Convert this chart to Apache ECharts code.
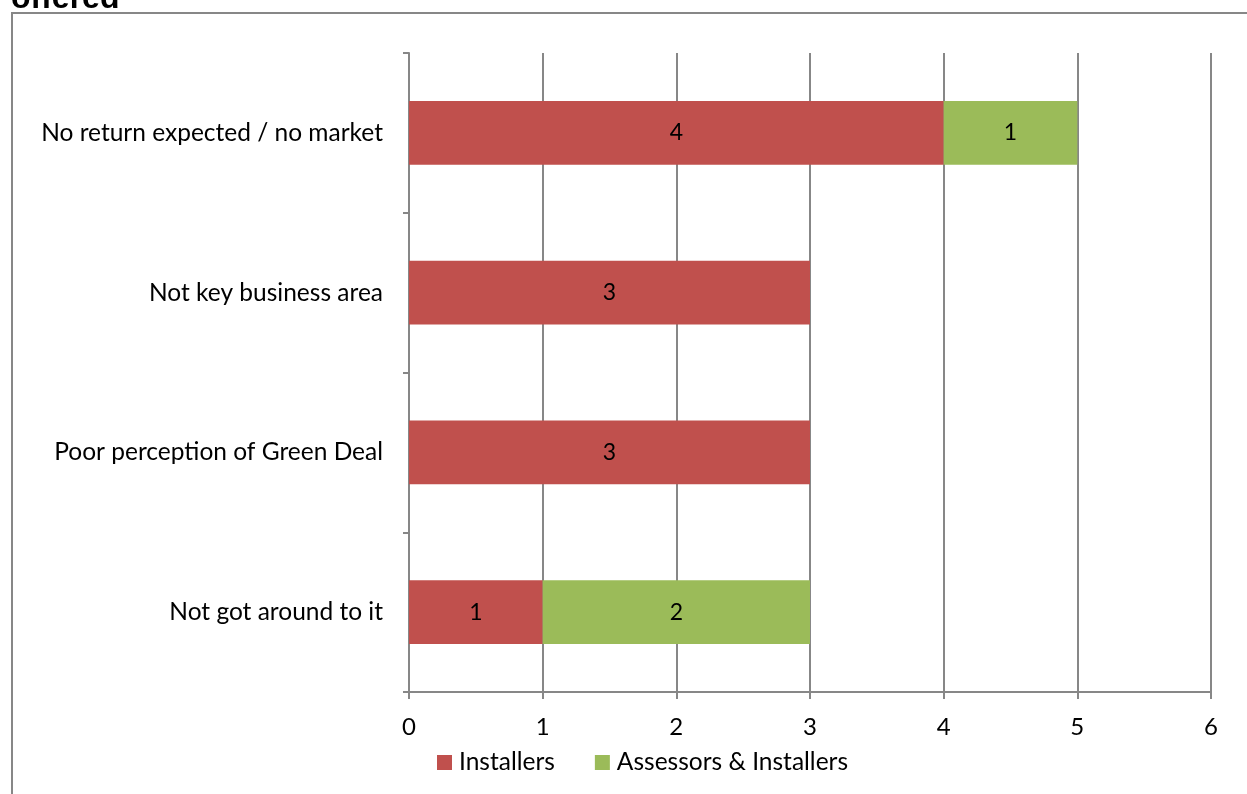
<!DOCTYPE html>
<html style="height: 100%">
<head>
    <meta charset="utf-8">
</head>
<body style="height: 100%; margin: 0; background: #fff">
    <div id="container" style="width: 1247px; height: 794px"></div>
    <script type="text/javascript" src="https://cdn.jsdelivr.net/npm/echarts@6/dist/echarts.min.js"></script>
    <script type="text/javascript">
        var categories = ['No return expected / no market', 'Not key business area', 'Poor perception of Green Deal', 'Not got around to it'];
        var installers = [4, 3, 3, 1];
        var assessorsInstallers = [1, null, null, 2];
        var xTicks = [0, 1, 2, 3, 4, 5, 6];

        var myChart = echarts.init(document.getElementById('container'));
        var axisGray = '#878787';
        var font = 'Lato, "Open Sans", sans-serif';

        var option = {
            backgroundColor: '#ffffff',
            animation: false,
            textStyle: { fontFamily: font },
            graphic: [
                {   // chart frame, runs off the page at right and bottom
                    type: 'rect',
                    shape: { x: 12, y: 13, width: 1400, height: 900 },
                    style: { fill: 'none', stroke: axisGray, lineWidth: 2 },
                    silent: true
                },
                {   // title, mostly cut off at the top
                    type: 'text',
                    left: 11,
                    top: -17,
                    style: {
                        text: 'offered',
                        font: 'bold 32px "Liberation Sans", Arial, sans-serif',
                        fill: '#000'
                    }
                }
            ],
            legend: {
                bottom: 14,
                left: 432,
                icon: 'rect',
                itemWidth: 15,
                itemHeight: 15,
                itemGap: 40,
                textStyle: { fontSize: 24.5, color: '#000', fontFamily: font, padding: [0, 0, 0, 2] },
                data: ['Installers', 'Assessors & Installers']
            },
            grid: { left: 409, right: 36, top: 53, bottom: 102, containLabel: false },
            xAxis: {
                type: 'value',
                min: xTicks[0],
                max: xTicks[xTicks.length - 1],
                interval: 1,
                axisLine: { show: true, lineStyle: { color: axisGray, width: 2 } },
                axisTick: { show: true, length: 7, lineStyle: { color: axisGray, width: 2 } },
                axisLabel: { color: '#000', fontSize: 24, margin: 23, fontFamily: font },
                splitLine: { show: true, lineStyle: { color: axisGray, width: 2 } }
            },
            yAxis: {
                type: 'category',
                inverse: true,
                data: categories,
                axisLine: { show: true, lineStyle: { color: axisGray, width: 2 } },
                axisTick: { show: true, length: 6, lineStyle: { color: axisGray, width: 2 } },
                axisLabel: { color: '#000', fontSize: 24.5, margin: 26, fontFamily: font }
            },
            series: [
                {
                    name: 'Installers',
                    type: 'bar',
                    stack: 'total',
                    barWidth: '40%',
                    itemStyle: { color: '#C0504D' },
                    label: { show: true, position: 'inside', color: '#000', fontSize: 23, fontFamily: font },
                    data: installers
                },
                {
                    name: 'Assessors & Installers',
                    type: 'bar',
                    stack: 'total',
                    barWidth: '40%',
                    itemStyle: { color: '#9BBB59' },
                    label: { show: true, position: 'inside', color: '#000', fontSize: 23, fontFamily: font },
                    data: assessorsInstallers
                }
            ]
        };

        myChart.setOption(option, true);
    </script>
</body>
</html>
